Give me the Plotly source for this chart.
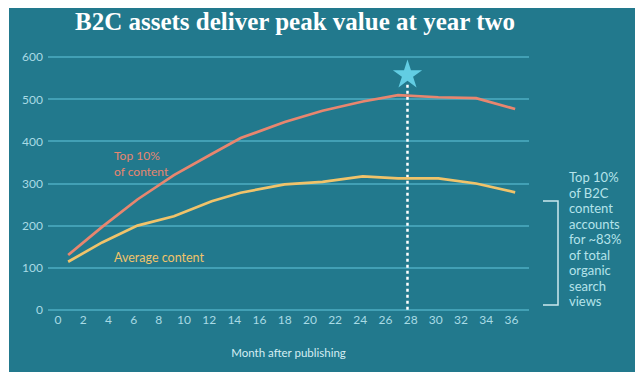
import plotly.graph_objects as go

months = [0.8, 3.5, 6.3, 9.2, 12.2, 14.5, 18, 21, 24.2, 27, 30.2, 33.2, 36.3]
top10 = [130, 197, 262, 320, 370, 408, 446, 473, 495, 510, 505, 503, 477]
average = [114, 160, 200, 222, 258, 278, 298, 304, 317, 312, 312, 300, 279]
peak_month = 27.75
star_value = 558
x_ticks = list(range(0, 37, 2))
y_ticks = [0, 100, 200, 300, 400, 500, 600]
side_note = ["Top 10%", "of B2C", "content", "accounts", "for ~83%",
             "of total", "organic", "search", "views"]

TEAL = "#22798d"
GRID = "#42a0b5"
TICK = "#a9dbe5"
SALMON = "#e8866f"
YELLOW = "#f0c36a"
STAR = "#62cde3"
FONT = "Lato"

fig = go.Figure()

fig.add_trace(go.Scatter(x=[peak_month, peak_month], y=[0, star_value - 22], mode="lines",
                         line=dict(color="white", width=2.5, dash="dot"), hoverinfo="skip"))
fig.add_trace(go.Scatter(x=months, y=average, mode="lines", line=dict(color=YELLOW, width=2.7)))
fig.add_trace(go.Scatter(x=months, y=top10, mode="lines", line=dict(color=SALMON, width=2.7)))
fig.add_trace(go.Scatter(x=[peak_month], y=[star_value], mode="markers",
                         marker=dict(symbol="star", size=22, color=STAR, line=dict(width=0))))

# page has an 8px body margin; figure coordinates are page coordinates minus 8
OFF = 8
W, H = 644 - OFF, 383 - OFF
L, R, T, B = 40, 115, 48, 72
pw, ph = W - L - R, H - T - B

def px(x):
    return (x - OFF - L) / pw

def py(y):
    return (H + OFF - B - y) / ph

shapes = [
    dict(type="rect", xref="paper", yref="paper", x0=px(9), x1=px(635), y0=py(372), y1=py(0),
         fillcolor=TEAL, line=dict(width=0), layer="below"),
    dict(type="path", xref="paper", yref="paper",
         path=f"M {px(543)} {py(201)} L {px(558)} {py(201)} L {px(558)} {py(305)} L {px(543)} {py(305)}",
         line=dict(color="#cde9ee", width=1.5)),
]

annotations = [
    dict(text="B2C assets deliver peak value at year two", xref="paper", yref="paper",
         x=px(295), y=py(21), xanchor="center", yanchor="middle", showarrow=False,
         font=dict(family="Liberation Serif", size=25, color="white", weight="bold")),
    dict(text="Top 10%<br>of content", x=4.3, y=347, xanchor="left", yanchor="middle",
         align="left", showarrow=False, font=dict(family=FONT, size=12, color=SALMON)),
    dict(text="Average content", x=4.3, y=125, xanchor="left", yanchor="middle",
         align="left", showarrow=False, font=dict(family=FONT, size=12.5, color=YELLOW)),
]
for i, line in enumerate(side_note):
    annotations.append(dict(text=line, xref="paper", yref="paper", x=px(567), y=py(177 + 15.5 * i),
                            xanchor="left", yanchor="middle", align="left", showarrow=False,
                            font=dict(family=FONT, size=13, color="#b5e3ea")))

fig.update_layout(
    width=W, height=H,
    margin=dict(l=L, r=R, t=T, b=B),
    paper_bgcolor="white", plot_bgcolor=TEAL,
    showlegend=False,
    shapes=shapes, annotations=annotations,
    xaxis=dict(range=[-0.8, 37.4], tickvals=x_ticks, showgrid=False, zeroline=False,
               showline=False, ticks="", tickfont=dict(family=FONT, size=12, color=TICK),
               title=dict(text="Month after publishing", font=dict(family=FONT, size=11.5, color="#d5eef3"),
                          standoff=22)),
    yaxis=dict(range=[-3, 603], tickvals=y_ticks, showgrid=True, gridcolor=GRID, gridwidth=1.5,
               zeroline=False, showline=False, ticks="", ticklabelstandoff=4,
               tickfont=dict(family=FONT, size=12, color=TICK)),
)

fig.write_html("out.html")
